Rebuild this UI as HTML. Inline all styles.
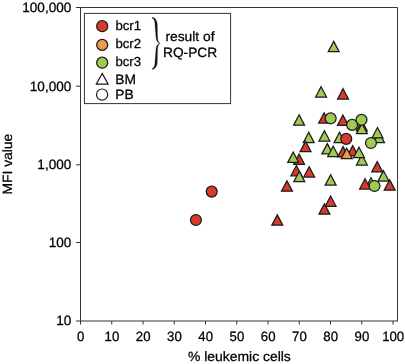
<!DOCTYPE html>
<html><head><meta charset="utf-8"><style>
html,body{margin:0;padding:0;background:#fff;}
svg{display:block;will-change:transform;}
</style></head><body>
<svg width="405" height="364" viewBox="0 0 405 364" style="text-rendering:geometricPrecision">
<rect width="405" height="364" fill="#fff"/>
<g fill="none" stroke="#353535" stroke-width="1">
<path d="M80.5 321V7.5H397.5V321"/>
<path d="M76 321H398" stroke-width="1.1"/>
<path d="M76 7.5H80.5"/>
<path d="M76 86.2H80.5"/>
<path d="M76 164.8H80.5"/>
<path d="M76 242.5H80.5"/>
<path d="M80.50 321V324.5"/>
<path d="M111.75 321V324.5"/>
<path d="M143.00 321V324.5"/>
<path d="M174.25 321V324.5"/>
<path d="M205.50 321V324.5"/>
<path d="M236.75 321V324.5"/>
<path d="M268.00 321V324.5"/>
<path d="M299.25 321V324.5"/>
<path d="M330.50 321V324.5"/>
<path d="M361.75 321V324.5"/>
<path d="M393.00 321V324.5"/>
</g>
<g font-family="'Liberation Sans', sans-serif" fill="#000" stroke="#000" stroke-width="0.25">
<text transform="translate(71.20 12.10) scale(1.025 1.02)" font-size="13.2" text-anchor="end">100,000</text>
<text transform="translate(71.20 90.80) scale(1.025 1.02)" font-size="13.2" text-anchor="end">10,000</text>
<text transform="translate(71.20 169.40) scale(1.025 1.02)" font-size="13.2" text-anchor="end">1,000</text>
<text transform="translate(71.20 247.10) scale(1.025 1.02)" font-size="13.2" text-anchor="end">100</text>
<text transform="translate(71.20 325.40) scale(1.025 1.02)" font-size="13.2" text-anchor="end">10</text>
<text transform="translate(80.70 341.30) scale(1.0 1.02)" font-size="13.2" text-anchor="middle">0</text>
<text transform="translate(111.95 341.30) scale(1.0 1.02)" font-size="13.2" text-anchor="middle">10</text>
<text transform="translate(143.20 341.30) scale(1.0 1.02)" font-size="13.2" text-anchor="middle">20</text>
<text transform="translate(174.45 341.30) scale(1.0 1.02)" font-size="13.2" text-anchor="middle">30</text>
<text transform="translate(205.70 341.30) scale(1.0 1.02)" font-size="13.2" text-anchor="middle">40</text>
<text transform="translate(236.95 341.30) scale(1.0 1.02)" font-size="13.2" text-anchor="middle">50</text>
<text transform="translate(268.20 341.30) scale(1.0 1.02)" font-size="13.2" text-anchor="middle">60</text>
<text transform="translate(299.45 341.30) scale(1.0 1.02)" font-size="13.2" text-anchor="middle">70</text>
<text transform="translate(330.70 341.30) scale(1.0 1.02)" font-size="13.2" text-anchor="middle">80</text>
<text transform="translate(361.95 341.30) scale(1.0 1.02)" font-size="13.2" text-anchor="middle">90</text>
<text transform="translate(393.20 341.30) scale(1.0 1.02)" font-size="13.2" text-anchor="middle">100</text>
<text transform="translate(188.00 361.00) scale(1.055 1.02)" font-size="13.2">% leukemic cells</text>
<text transform="translate(12.30 194.60) rotate(-90) scale(1.052 1.02)" font-size="13.2">MFI value</text>
</g>
<rect x="84.4" y="13.4" width="146.2" height="90.2" fill="#fff" stroke="#353535" stroke-width="1"/>
<g stroke="#1a1a1a" stroke-width="1.25">
<circle cx="102.20" cy="26.20" r="5.5" fill="#da3a2c"/>
<circle cx="102.20" cy="44.90" r="5.5" fill="#eb9c4c"/>
<circle cx="102.20" cy="62.70" r="5.5" fill="#a0cb52"/>
<path d="M102.2 73.4L108.1 84.2L96.3 84.2Z" fill="none" stroke-width="1.2"/>
<circle cx="102.10" cy="94.60" r="5.6" fill="none" stroke-width="1.2"/>
</g>
<g font-family="'Liberation Sans', sans-serif" fill="#000" stroke="#000" stroke-width="0.25">
<text transform="translate(115.40 30.00) scale(1.0 1.0)" font-size="13.2">bcr1</text>
<text transform="translate(115.40 48.00) scale(1.0 1.0)" font-size="13.2">bcr2</text>
<text transform="translate(115.40 66.00) scale(1.0 1.0)" font-size="13.2">bcr3</text>
<text transform="translate(115.30 83.80) scale(1.045 1.02)" font-size="13.2">BM</text>
<text transform="translate(115.30 99.00) scale(1.045 1.02)" font-size="13.2">PB</text>
<text transform="translate(165.40 40.80) scale(1.048 1.02)" font-size="13.2">result of</text>
<text transform="translate(163.00 57.40) scale(1.04 1.02)" font-size="13.2">RQ-PCR</text>
</g>
<path d="M152.3 17.3C155.2 17.8 157.3 20.5 157.3 25.5L157.5 35.5C157.5 39.5 158.2 42.2 160 43.4C157.6 42.8 155.9 40.2 155.9 36.2L155.1 26C155.1 21.5 154.4 18.9 152.2 18.3Z" fill="#111" stroke="#111" stroke-width="0.25"/>
<path d="M152.3 17.3C155.2 17.8 157.3 20.5 157.3 25.5L157.5 35.5C157.5 39.5 158.2 42.2 160 43.4C157.6 42.8 155.9 40.2 155.9 36.2L155.1 26C155.1 21.5 154.4 18.9 152.2 18.3Z" transform="translate(0 86.7) scale(1 -1)" fill="#111" stroke="#111" stroke-width="0.25"/>
<g stroke="#1a1a1a" stroke-width="1.25" stroke-linejoin="miter">
<path d="M333.70 41.40L339.15 51.70L328.25 51.70Z" fill="#a0cb52"/>
<path d="M321.10 86.70L326.55 97.00L315.65 97.00Z" fill="#a0cb52"/>
<path d="M343.05 88.70L348.50 99.00L337.60 99.00Z" fill="#da3a2c"/>
<path d="M299.10 114.80L304.55 125.10L293.65 125.10Z" fill="#a0cb52"/>
<path d="M324.10 112.80L329.55 123.10L318.65 123.10Z" fill="#da3a2c"/>
<path d="M342.90 115.10L348.35 125.40L337.45 125.40Z" fill="#da3a2c"/>
<path d="M361.80 120.50L367.25 130.80L356.35 130.80Z" fill="#da3a2c"/>
<path d="M361.90 123.40L367.35 133.70L356.45 133.70Z" fill="#a0cb52"/>
<path d="M379.00 132.40L384.45 142.70L373.55 142.70Z" fill="#a0cb52"/>
<path d="M377.50 127.50L382.95 137.80L372.05 137.80Z" fill="#a0cb52"/>
<path d="M308.75 132.30L314.20 142.60L303.30 142.60Z" fill="#a0cb52"/>
<path d="M324.45 130.70L329.90 141.00L319.00 141.00Z" fill="#a0cb52"/>
<path d="M339.50 132.30L344.95 142.60L334.05 142.60Z" fill="#a0cb52"/>
<path d="M305.55 141.40L311.00 151.70L300.10 151.70Z" fill="#da3a2c"/>
<path d="M299.10 154.10L304.55 164.40L293.65 164.40Z" fill="#da3a2c"/>
<path d="M293.20 152.10L298.65 162.40L287.75 162.40Z" fill="#a0cb52"/>
<path d="M296.40 165.50L301.85 175.80L290.95 175.80Z" fill="#da3a2c"/>
<path d="M299.30 171.30L304.75 181.60L293.85 181.60Z" fill="#a0cb52"/>
<path d="M309.20 166.70L314.65 177.00L303.75 177.00Z" fill="#da3a2c"/>
<path d="M286.95 180.90L292.40 191.20L281.50 191.20Z" fill="#da3a2c"/>
<path d="M277.30 214.90L282.75 225.20L271.85 225.20Z" fill="#da3a2c"/>
<path d="M327.30 143.60L332.75 153.90L321.85 153.90Z" fill="#a0cb52"/>
<path d="M333.20 146.20L338.65 156.50L327.75 156.50Z" fill="#a0cb52"/>
<path d="M343.10 146.60L348.55 156.90L337.65 156.90Z" fill="#da3a2c"/>
<path d="M352.70 145.60L358.15 155.90L347.25 155.90Z" fill="#da3a2c"/>
<path d="M346.75 148.20L352.20 158.50L341.30 158.50Z" fill="#eb9c4c"/>
<path d="M361.90 154.70L367.35 165.00L356.45 165.00Z" fill="#a0cb52"/>
<path d="M359.00 147.20L364.45 157.50L353.55 157.50Z" fill="#a0cb52"/>
<path d="M330.65 174.80L336.10 185.10L325.20 185.10Z" fill="#a0cb52"/>
<path d="M330.60 196.00L336.05 206.30L325.15 206.30Z" fill="#da3a2c"/>
<path d="M324.40 203.90L329.85 214.20L318.95 214.20Z" fill="#da3a2c"/>
<path d="M377.20 161.60L382.65 171.90L371.75 171.90Z" fill="#da3a2c"/>
<path d="M383.50 170.70L388.95 181.00L378.05 181.00Z" fill="#a0cb52"/>
<path d="M371.00 177.80L376.45 188.10L365.55 188.10Z" fill="#a0cb52"/>
<path d="M365.10 178.70L370.55 189.00L359.65 189.00Z" fill="#da3a2c"/>
<path d="M389.70 179.90L395.15 190.20L384.25 190.20Z" fill="#da3a2c"/>
<circle cx="330.65" cy="118.30" r="5.45" fill="#a0cb52"/>
<circle cx="352.10" cy="124.90" r="5.45" fill="#a0cb52"/>
<circle cx="361.50" cy="119.80" r="5.45" fill="#a0cb52"/>
<circle cx="346.25" cy="138.90" r="5.45" fill="#da3a2c"/>
<circle cx="370.95" cy="143.00" r="5.45" fill="#a0cb52"/>
<circle cx="374.50" cy="186.00" r="5.45" fill="#a0cb52"/>
<circle cx="211.70" cy="191.60" r="5.45" fill="#da3a2c"/>
<circle cx="195.90" cy="220.00" r="5.45" fill="#da3a2c"/>
</g>
</svg>
</body></html>
